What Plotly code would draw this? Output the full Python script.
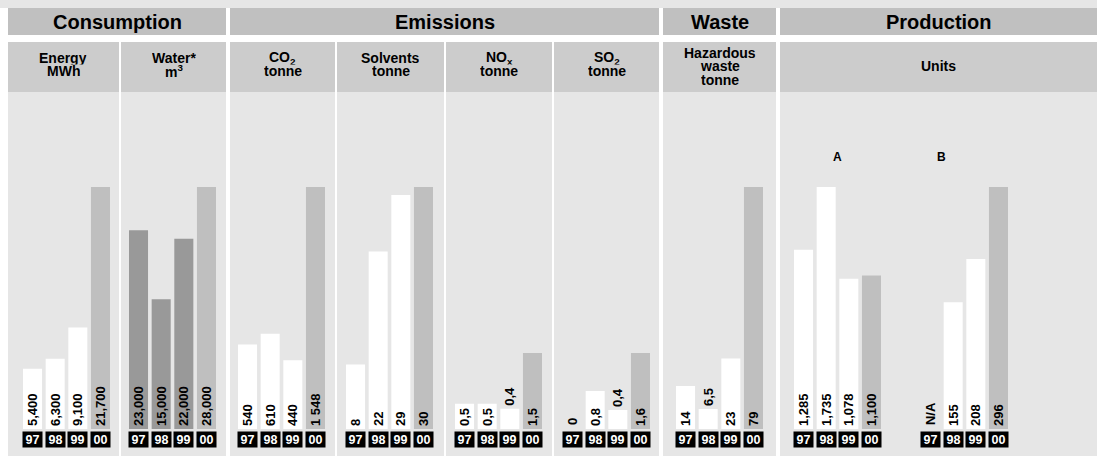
import plotly.graph_objects as go

W, H = 1097, 456

# ---------------- data ----------------
years = ["97", "98", "99", "00"]

energy_mwh = [5400, 6300, 9100, 21700]
energy_lbl = ["5,400", "6,300", "9,100", "21,700"]
water_m3 = [23000, 15000, 22000, 28000]
water_lbl = ["23,000", "15,000", "22,000", "28,000"]
co2_t = [540, 610, 440, 1548]
co2_lbl = ["540", "610", "440", "1 548"]
solvents_t = [8, 22, 29, 30]
solvents_lbl = ["8", "22", "29", "30"]
nox_t = [0.5, 0.5, 0.4, 1.5]
nox_lbl = ["0,5", "0,5", "0,4", "1,5"]
so2_t = [0, 0.8, 0.4, 1.6]
so2_lbl = ["0", "0,8", "0,4", "1,6"]
waste_t = [14, 6.5, 23, 79]
waste_lbl = ["14", "6,5", "23", "79"]
units_a = [1285, 1735, 1078, 1100]
units_a_lbl = ["1,285", "1,735", "1,078", "1,100"]
units_b = [None, 155, 208, 296]
units_b_lbl = ["N/A", "155", "208", "296"]

group_titles = ["Consumption", "Emissions", "Waste", "Production"]
sub_titles = [
    ["Energy", "MWh"],
    ["Water*", "m<sup>3</sup>"],
    ["CO<sub>2</sub>", "tonne"],
    ["Solvents", "tonne"],
    ["NO<sub>x</sub>", "tonne"],
    ["SO<sub>2</sub>", "tonne"],
    ["Hazardous", "waste", "tonne"],
    ["Units"],
]
series_tags = ["A", "B"]

# ---------------- layout geometry (pixels) ----------------
FONT = "Liberation Sans"
C_HEAD = "#c0c0c0"
C_SUB = "#cccccc"
C_PANEL = "#e6e6e6"
C_NOW = "#bfbfbf"
LBL_SIZE = 13

group_x = [(8, 226), (230, 659), (663, 776), (780, 1097)]
panel_x = [(8, 119), (121, 226), (230, 335), (337, 444), (446, 552),
           (554, 659), (663, 776), (780, 1097)]

BAR_BOTTOM, BAR_TOP = 429, 187
BAR_H = BAR_BOTTOM - BAR_TOP
SMALL = 76 / 242

# each chart: values, labels, x-domain in px, fraction of full height for max, colour of past years
charts = [
    (energy_mwh, energy_lbl, (21.2, 111.8), 1.0, "#ffffff"),
    (water_m3, water_lbl, (127.2, 217.8), 1.0, "#999999"),
    (co2_t, co2_lbl, (236.2, 326.8), 1.0, "#ffffff"),
    (solvents_t, solvents_lbl, (344.2, 434.8), 1.0, "#ffffff"),
    (nox_t, nox_lbl, (453.2, 543.8), SMALL, "#ffffff"),
    (so2_t, so2_lbl, (561.2, 651.8), SMALL, "#ffffff"),
    (waste_t, waste_lbl, (674.2, 764.8), 1.0, "#ffffff"),
    (units_a, units_a_lbl, (792.2, 882.8), 1.0, "#ffffff"),
    (units_b, units_b_lbl, (919.2, 1009.8), 1.0, "#ffffff"),
]

CHAR_W = {",": 0.278, " ": 0.278, "/": 0.278, "N": 0.722, "A": 0.722}


def text_len(s):
    return sum(CHAR_W.get(c, 0.556) for c in s) * LBL_SIZE


def px(x):
    return x / W


def py(y):
    return 1 - y / H


fig = go.Figure()
layout = {}
annotations = []
shapes = []

# background blocks
shapes.append(dict(type="rect", xref="paper", yref="paper", x0=0, x1=1,
                   y0=py(8), y1=1, fillcolor=C_PANEL, line_width=0, layer="below"))
for (a, b) in group_x:
    shapes.append(dict(type="rect", xref="paper", yref="paper", x0=px(a), x1=px(b),
                       y0=py(35), y1=py(8), fillcolor=C_HEAD, line_width=0, layer="below"))
for (a, b) in panel_x:
    shapes.append(dict(type="rect", xref="paper", yref="paper", x0=px(a), x1=px(b),
                       y0=py(92), y1=py(42), fillcolor=C_SUB, line_width=0, layer="below"))
    shapes.append(dict(type="rect", xref="paper", yref="paper", x0=px(a), x1=px(b),
                       y0=0, y1=py(92), fillcolor=C_PANEL, line_width=0, layer="below"))

# group titles
for (a, b), t in zip(group_x, group_titles):
    annotations.append(dict(xref="paper", yref="paper", x=px((a + b) / 2), y=py(21.5),
                            text=t, showarrow=False, xanchor="center", yanchor="middle",
                            font=dict(family=FONT, size=20, color="#000", weight="bold")))

# sub titles (one annotation per line for tight line spacing)
line_pos = {1: [66], 2: [58, 71], 3: [53.5, 67, 80.5]}
for (a, b), lines in zip(panel_x, sub_titles):
    for ln, yy in zip(lines, line_pos[len(lines)]):
        annotations.append(dict(xref="paper", yref="paper", x=px((a + b) / 2), y=py(yy),
                                text=ln, showarrow=False, xanchor="center", yanchor="middle",
                                height=12.5,
                                font=dict(family=FONT, size=14, color="#000", weight="bold")))

xpos = list(range(len(years)))
lblfont = dict(family=FONT, size=LBL_SIZE, color="#000", weight="bold")

for i, (vals, lbls, dom, frac, past) in enumerate(charts):
    n = i + 1
    xa = "x" if n == 1 else f"x{n}"
    ya = "y" if n == 1 else f"y{n}"
    plot_vals = [v if v is not None else 0 for v in vals]
    vmax = max(plot_vals)
    top = vmax / frac
    colors = [past] * (len(years) - 1) + [C_NOW]
    positions, texts = [], []
    for k, (v, s) in enumerate(zip(plot_vals, lbls)):
        hpx = v / top * BAR_H
        if v == 0:
            # zero-height bars carry no text in plotly: label placed at the base instead
            texts.append("")
            positions.append("none")
            annotations.append(dict(xref=xa, yref=ya, x=xpos[k], y=0, text=s,
                                    showarrow=False, textangle=-90,
                                    xanchor="center", yanchor="bottom", yshift=2,
                                    font=lblfont))
        else:
            texts.append(s)
            positions.append("inside" if hpx >= text_len(s) + 6 else "outside")
    fig.add_trace(go.Bar(
        x=xpos, y=plot_vals, text=texts, xaxis=xa, yaxis=ya,
        marker=dict(color=colors, line_width=0),
        textposition=positions, insidetextanchor="start", textangle=-90,
        constraintext="none", cliponaxis=False,
        textfont=lblfont, insidetextfont=lblfont, outsidetextfont=lblfont,
        hoverinfo="skip", showlegend=False,
    ))
    layout["xaxis" if n == 1 else f"xaxis{n}"] = dict(
        domain=[px(dom[0]), px(dom[1])], anchor=ya, type="linear",
        range=[-0.5, len(years) - 0.5],
        showticklabels=False, showgrid=False, zeroline=False, showline=False, ticks="")
    layout["yaxis" if n == 1 else f"yaxis{n}"] = dict(
        domain=[py(BAR_BOTTOM), py(BAR_TOP)], anchor=xa, range=[0, top],
        showticklabels=False, showgrid=False, zeroline=False, showline=False, ticks="")
    # year boxes
    for k, yr in enumerate(years):
        annotations.append(dict(xref=xa, yref="paper", x=xpos[k], y=py(439.5), text=yr,
                                showarrow=False, xanchor="center", yanchor="middle",
                                bgcolor="#000000", width=19, height=15, borderpad=0,
                                font=dict(family=FONT, size=12.5, color="#ffffff", weight="bold")))

# series tags A / B
for n, tag, pos in [(8, series_tags[0], 1.5), (9, series_tags[1], 0.5)]:
    annotations.append(dict(xref=f"x{n}", yref="paper", x=pos, y=py(157), text=tag,
                            showarrow=False, xanchor="center", yanchor="middle",
                            font=dict(family=FONT, size=12, color="#000", weight="bold")))

fig.update_layout(
    width=W, height=H, margin=dict(l=0, r=0, t=0, b=0),
    paper_bgcolor="#ffffff", plot_bgcolor="rgba(0,0,0,0)",
    bargap=0.16, showlegend=False,
    uniformtext=dict(minsize=LBL_SIZE, mode="show"),
    shapes=shapes, annotations=annotations,
    font=dict(family=FONT),
    **layout,
)

fig.write_html("out.html", config={"displayModeBar": False},
               post_script="document.body.style.margin='0';")
